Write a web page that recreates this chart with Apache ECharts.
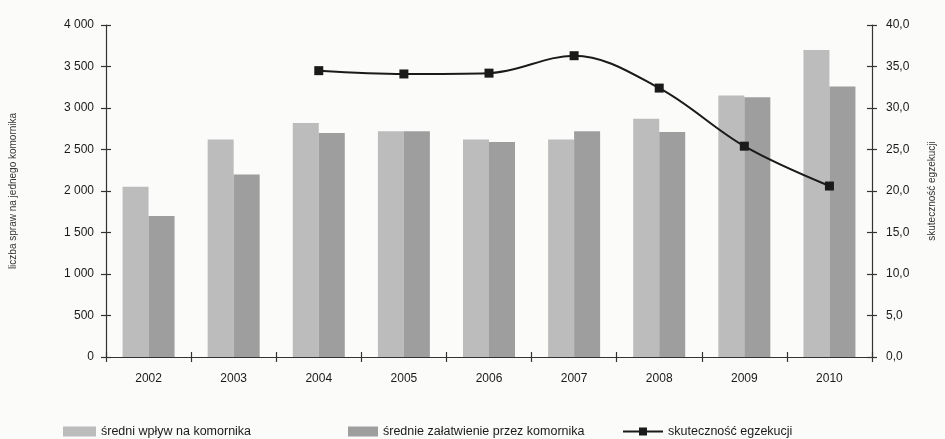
<!DOCTYPE html>
<html>
<head>
<meta charset="utf-8">
<script src="https://cdn.jsdelivr.net/npm/echarts@6/dist/echarts.min.js"></script>
<style>
html,body{margin:0;padding:0;background:#fbfbfa;}
#c{width:945px;height:439px;}
</style>
</head>
<body>
<div id="c"></div>
<script>
var years = ['2002','2003','2004','2005','2006','2007','2008','2009','2010'];
var wplyw = [2050, 2620, 2820, 2720, 2620, 2620, 2870, 3150, 3700];
var zalatwienie = [1700, 2200, 2700, 2720, 2590, 2720, 2710, 3130, 3260];
var skutecznosc = [null, null, 34.5, 34.1, 34.2, 36.3, 32.4, 25.4, 20.6];
var leftTicks = {min: 0, max: 4000, interval: 500};
var rightTicks = {min: 0, max: 40, interval: 5};

var font = 'Liberation Sans, Arial, sans-serif';
var axisCol = '#333';
function fmtThousand(v){ return v >= 1000 ? String(Math.floor(v/1000)) + ' ' + String(v%1000).padStart(3,'0') : String(v); }
function fmtDec(v){ return v.toFixed(1).replace('.', ','); }

var chart = echarts.init(document.getElementById('c'), null, {renderer:'canvas'});
var baseY = {
  type:'value', splitLine:{show:false},
  axisLine:{show:true, lineStyle:{color:axisCol, width:1.2}},
  axisTick:{show:true, length:5, lineStyle:{color:axisCol, width:1.2}}
};
var legText = {fontFamily:font, fontSize:12.5, color:'#1a1a1a'};
chart.setOption({
  backgroundColor:'#fbfbfa',
  animation:false,
  grid:{left:106, right:63, top:25, bottom:82},
  legend:[
    {data:['średni wpływ na komornika'], icon:'rect', left:63, top:425, padding:0, itemWidth:33, itemHeight:10, itemGap:5,
     textStyle:legText},
    {data:['średnie załatwienie przez komornika'], icon:'rect', left:348, top:425, padding:0, itemWidth:30, itemHeight:10,
     textStyle:legText},
    {data:['skuteczność egzekucji'], left:622, top:425, padding:0, itemWidth:40, itemHeight:10,
     textStyle:legText}
  ],
  xAxis:[
    {type:'category', data:years, boundaryGap:true,
     axisLine:{show:true, lineStyle:{color:axisCol, width:1.2}},
     axisTick:{show:true, length:5, lineStyle:{color:axisCol, width:1.2}},
     axisLabel:{fontFamily:font, fontSize:12, color:'#1a1a1a', margin:16}},
    {type:'category', data:years, boundaryGap:true, position:'bottom',
     axisLine:{show:false},
     axisTick:{show:true, inside:true, length:5, lineStyle:{color:axisCol, width:1.2}},
     axisLabel:{show:false}}
  ],
  yAxis:[
    Object.assign({}, baseY, {min:leftTicks.min, max:leftTicks.max, interval:leftTicks.interval, position:'left',
      name:'liczba spraw na jednego komornika', nameLocation:'middle', nameGap:88, nameRotate:90,
      nameTextStyle:{fontFamily:font, fontSize:10, color:'#333'},
      axisLabel:{fontFamily:font, fontSize:12, color:'#1a1a1a', margin:12, formatter:fmtThousand}}),
    Object.assign({}, baseY, {min:rightTicks.min, max:rightTicks.max, interval:rightTicks.interval, position:'right',
      name:'skuteczność egzekucji', nameLocation:'middle', nameGap:55, nameRotate:90,
      nameTextStyle:{fontFamily:font, fontSize:10, color:'#333'},
      axisLabel:{fontFamily:font, fontSize:12, color:'#1a1a1a', margin:14, formatter:fmtDec}}),
    {type:'value', min:leftTicks.min, max:leftTicks.max, interval:leftTicks.interval, position:'left', offset:0,
      splitLine:{show:false}, axisLine:{show:false}, axisLabel:{show:false},
      axisTick:{show:true, inside:true, length:5, lineStyle:{color:axisCol, width:1.2}}},
    {type:'value', min:rightTicks.min, max:rightTicks.max, interval:rightTicks.interval, position:'right', offset:0,
      splitLine:{show:false}, axisLine:{show:false}, axisLabel:{show:false},
      axisTick:{show:true, inside:true, length:5, lineStyle:{color:axisCol, width:1.2}}}
  ],
  series:[
    {name:'średni wpływ na komornika', type:'bar', data:wplyw, barWidth:26, barGap:'0%',
     itemStyle:{color:'#bcbcbc'}},
    {name:'średnie załatwienie przez komornika', type:'bar', data:zalatwienie, barWidth:26, barGap:'0%',
     itemStyle:{color:'#9e9e9e'}},
    {name:'skuteczność egzekucji', type:'line', yAxisIndex:1, data:skutecznosc, smooth:0.35,
     symbol:'rect', symbolSize:9, connectNulls:false,
     lineStyle:{color:'#1a1a1a', width:2}, itemStyle:{color:'#1a1a1a'}}
  ]
});
</script>
</body>
</html>
